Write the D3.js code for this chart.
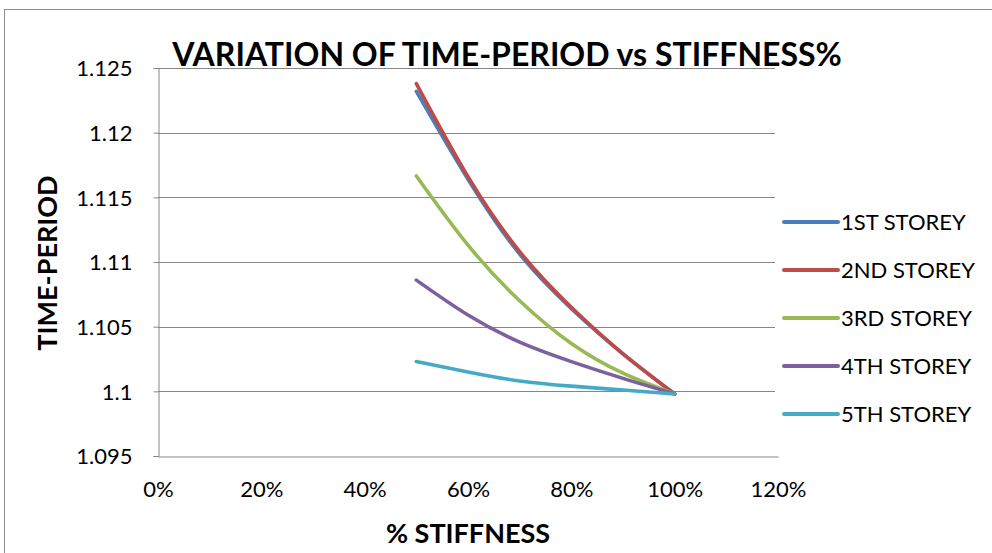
<!DOCTYPE html>
<html><head><meta charset="utf-8">
<script src="https://cdn.jsdelivr.net/npm/d3@7/dist/d3.min.js"></script>
<style>html,body{margin:0;padding:0;background:#fff;}svg{display:block;}</style>
</head><body>
<svg id="c" width="992" height="553"></svg>
<script>
const stiffness = [0.5, 0.6, 0.7, 0.8, 0.9, 1.0];
const storey1 = [1.1232, 1.1164, 1.1106, 1.1064, 1.1029, 1.0998];
const storey2 = [1.1238, 1.1166, 1.1108, 1.1065, 1.1029, 1.0998];
const storey3 = [1.11665, 1.1113, 1.1070, 1.1037, 1.1014, 1.0998];
const storey4 = [1.1086, 1.1059, 1.1038, 1.1023, 1.1010, 1.0998];
const storey5 = [1.1023, 1.1015, 1.1008, 1.1004, 1.1001, 1.0998];
const seriesNames = ["1ST STOREY", "2ND STOREY", "3RD STOREY", "4TH STOREY", "5TH STOREY"];
const seriesColors = ["#4A7EBB", "#BE4B48", "#98B954", "#7D60A0", "#46AAC5"];
const xTicks = [0, 0.2, 0.4, 0.6, 0.8, 1.0, 1.2];
const yTicks = [1.095, 1.1, 1.105, 1.11, 1.115, 1.12, 1.125];
const allSeries = [storey1, storey2, storey3, storey4, storey5];

const svg = d3.select("#c");
const font = "Lato, 'Open Sans', sans-serif";
const L = 158, R = 778, T = 68, B = 456;

svg.append("rect").attr("x", 4.5).attr("y", 9.5).attr("width", 1000).attr("height", 600)
  .attr("fill", "none").attr("stroke", "#8c8c8c").attr("stroke-width", 1);

const x = d3.scaleLinear().domain([0, 1.2]).range([L, R]);
const y = d3.scaleLinear().domain([1.095, 1.125]).range([B, T]);

// gridlines
svg.append("g").selectAll("line").data(yTicks.filter(d => d > 1.095)).join("line")
  .attr("x1", L).attr("x2", R - 3)
  .attr("y1", d => Math.round(y(d)) + 0.5).attr("y2", d => Math.round(y(d)) + 0.5)
  .attr("stroke", "#868686").attr("stroke-width", 1);

// axes
const ya = svg.append("g").attr("transform", `translate(${L + 0.5},0)`)
  .call(d3.axisLeft(y).tickValues(yTicks).tickSize(5).tickFormat(d => d3.format("")(+d.toFixed(3))));
ya.select(".domain").attr("stroke", "#868686");
ya.selectAll(".tick line").attr("stroke", "#868686");
ya.selectAll(".tick text").attr("font-family", font).attr("font-size", 22).attr("fill", "#000").attr("x", -26).attr("dy", "0.35em");

const xa = svg.append("g").attr("transform", `translate(0,${B + 0.5})`)
  .call(d3.axisBottom(x).tickValues(xTicks).tickSize(0).tickFormat(d3.format(".0%")));
xa.select(".domain").attr("stroke", "#868686");
xa.selectAll(".tick text").attr("font-family", font).attr("font-size", 22).attr("fill", "#000").attr("y", 25).attr("dy", "0.71em");

// lines
const line = d3.line().x((d, i) => x(stiffness[i])).y(d => y(d)).curve(d3.curveNatural);
svg.append("g").selectAll("path").data(allSeries).join("path")
  .attr("d", d => line(d)).attr("fill", "none")
  .attr("stroke", (d, i) => seriesColors[i]).attr("stroke-width", 3.6)
  .attr("stroke-linecap", "round").attr("stroke-linejoin", "round");

// legend
const lg = svg.append("g").selectAll("g").data(seriesNames).join("g")
  .attr("transform", (d, i) => `translate(784,${222 + i * 48})`);
lg.append("line").attr("x1", 0).attr("x2", 54).attr("stroke", (d, i) => seriesColors[i])
  .attr("stroke-width", 4).attr("stroke-linecap", "round");
lg.append("text").attr("x", 57).attr("dy", "0.35em").attr("font-family", font).attr("font-size", 22).text(d => d);

// titles
svg.append("text").attr("x", 507).attr("y", 66).attr("text-anchor", "middle")
  .attr("font-family", font).attr("font-weight", "bold").attr("font-size", 32)
  .text("VARIATION OF TIME-PERIOD vs STIFFNESS%");
svg.append("text").attr("x", 468).attr("y", 543).attr("text-anchor", "middle")
  .attr("font-family", font).attr("font-weight", "bold").attr("font-size", 27)
  .text("% STIFFNESS");
svg.append("text").attr("transform", "translate(57,263) rotate(-90)").attr("text-anchor", "middle")
  .attr("font-family", font).attr("font-weight", "bold").attr("font-size", 27)
  .text("TIME-PERIOD");
</script>
</body></html>
